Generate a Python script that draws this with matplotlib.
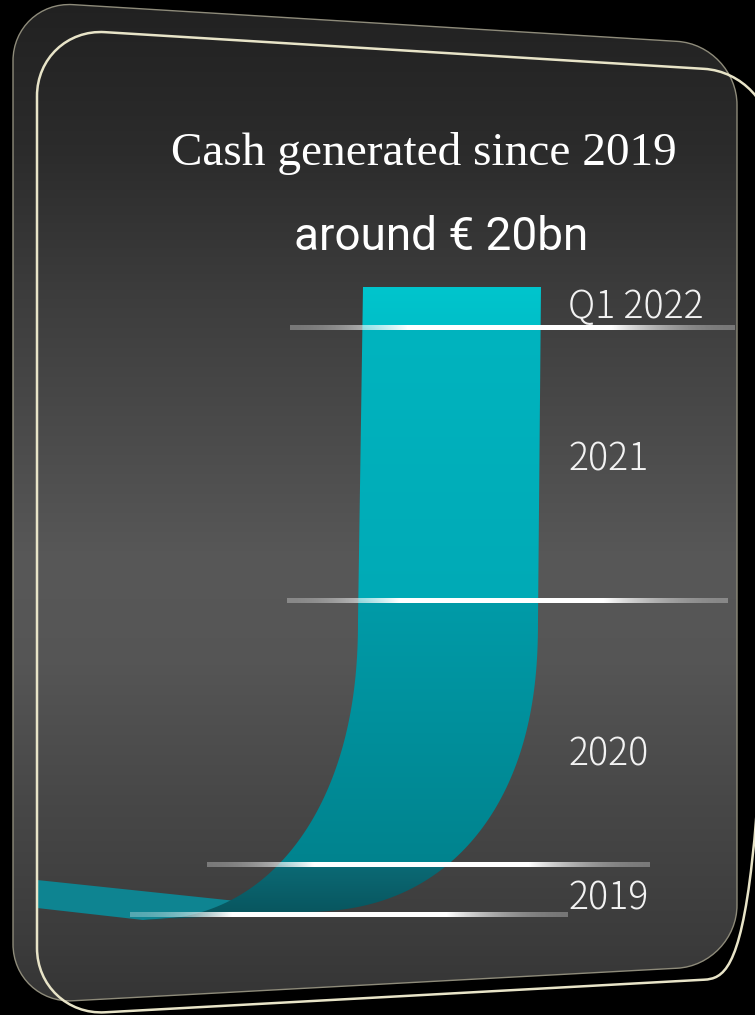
import numpy as np
import matplotlib.pyplot as plt
from matplotlib.path import Path
from matplotlib.patches import PathPatch, Polygon
from matplotlib.colors import to_rgb

# data
periods = ["2019", "2020", "2021", "Q1 2022"]
cash_bn = [1.6, 8.4, 8.7, 1.3]
title = "Cash generated since 2019"
subtitle = "around \u20ac 20bn"

W, H = 755, 1015


def rounded_quad(pts, r):
    # closed quadrilateral with rounded corners (cubic approx of circular arc)
    pts = [np.array(p, float) for p in pts]
    verts, codes = [], []
    k = 0.552
    for i in range(4):
        p, prv, nxt = pts[i], pts[i - 1], pts[(i + 1) % 4]
        d1 = (prv - p) / np.linalg.norm(prv - p)
        d2 = (nxt - p) / np.linalg.norm(nxt - p)
        a, b = p + d1 * r, p + d2 * r
        verts.append(a)
        codes.append(Path.MOVETO if i == 0 else Path.LINETO)
        verts += [a + (p - a) * k, b + (p - b) * k, b]
        codes += [Path.CURVE4] * 3
    verts.append(verts[0])
    codes.append(Path.CLOSEPOLY)
    return Path(verts, codes)


def superellipse(cx, cy, a, b, p, n=80):
    t = np.linspace(0, np.pi / 2, n)
    return np.c_[cx + a * np.cos(t) ** (2 / p), cy - b * np.sin(t) ** (2 / p)]


fig = plt.figure(figsize=(7.55, 10.15), dpi=100)
fig.patch.set_facecolor("black")

# card layer, pixel coordinates
ax = fig.add_axes([0, 0, 1, 1])
ax.axis("off")

back = rounded_quad([(13, 1), (737, 45), (737, 965), (13, 1004)], 60)
front = rounded_quad([(37, 28), (772, 73), (772, 976), (37, 1016)], 68)

yy = np.arange(H)
shade = np.interp(yy, [0, 150, 300, 450, 560, 660, 800, 950, 1015],
                  [0.13, 0.17, 0.24, 0.30, 0.345, 0.335, 0.28, 0.23, 0.20])
card_img = np.repeat(shade[:, None], W, axis=1)
im = ax.imshow(np.dstack([card_img] * 3), extent=(0, W, H, 0), origin="upper",
               aspect="auto", interpolation="bilinear", zorder=1)
back_patch = PathPatch(back, fc="none", ec="#8e8b7a", lw=1.0, zorder=2)
ax.add_patch(back_patch)
im.set_clip_path(back_patch)
ax.set_xlim(0, W)
ax.set_ylim(H, 0)

ax.text(171, 165, title, color="white", fontsize=34, family="Liberation Serif",
        va="baseline", ha="left")
ax.text(294, 250, subtitle, color="white", fontsize=33, family="Roboto",
        va="baseline", ha="left")

# ribbon layer, y in bn
total = sum(cash_bn)
cum = np.cumsum(cash_bn)
TOP_PX, BASE_PX = 287, 915
ppb = (BASE_PX - TOP_PX) / total
ax2 = fig.add_axes([0, 0, 1, 1], facecolor="none")
ax2.axis("off")
ylo, yhi = -(H - BASE_PX) / ppb, BASE_PX / ppb

bend = 9.4
outer = superellipse(300, bend, 238, bend - 0.096, 2.3)
inner = superellipse(143, bend, 215, bend + 0.16, 2.2)
j_verts = np.vstack([[(363, total), (541, total)], outer, [(143, -0.16)], inner[::-1]])
j_patch = Polygon(j_verts, closed=True, fc="none", ec="none")
ax2.add_patch(j_patch)

band = Polygon([(37, 1.115), (300, 0.232), (250, 0.096), (143, -0.159), (37, 0.223)],
               closed=True, fc="#0e8491", ec="none", zorder=1)
ax2.add_patch(band)

seg_top = ["#0b6a75", "#009ba8", "#00b4bf", "#00c5cd"]
seg_bot = ["#08555e", "#00838e", "#00aab6", "#00bfc8"]
ys = np.linspace(ylo, yhi, 1600)
edges = np.r_[0, cum]
rib = np.zeros((len(ys), 1, 3))
for i in range(len(cash_bn)):
    lo = -1e9 if i == 0 else edges[i]
    hi = 1e9 if i == len(cash_bn) - 1 else edges[i + 1]
    m = (ys >= lo) & (ys < hi)
    f = np.clip((ys[m] - edges[i]) / (edges[i + 1] - edges[i]), 0, 1)[:, None]
    rib[m, 0, :] = np.array(to_rgb(seg_bot[i])) * (1 - f) + np.array(to_rgb(seg_top[i])) * f
rib = np.repeat(rib, 4, axis=1)
im2 = ax2.imshow(rib, extent=(0, W, ylo, yhi), origin="lower", aspect="auto",
                 interpolation="bilinear", zorder=2)
im2.set_clip_path(j_patch)

# glowing separators at period boundaries (white core fading to grey)
line_ext = [(130, 568, 231, 448), (207, 650, 313, 530), (287, 728, 398, 605), (290, 735, 407, 613)]
half = 2.3 / ppb
for yb, (x0, x1, c0, c1) in zip(edges[:-1], line_ext):
    xs = np.linspace(x0, x1, 400)
    s = np.where(xs < c0, (xs - x0) / (c0 - x0), np.where(xs > c1, (x1 - xs) / (x1 - c1), 1.0))
    alpha = 0.3 + 0.7 * np.clip(s, 0, 1) ** 2
    strip = np.ones((1, len(xs), 4))
    strip[0, :, 3] = alpha
    ax2.imshow(strip, extent=(x0, x1, yb - half, yb + half), origin="lower",
               aspect="auto", interpolation="bilinear", zorder=3)

label_off = [-0.29, -0.7, 0.14, 0.01]
for i, lab in enumerate(periods):
    mid = (edges[i] + edges[i + 1]) / 2 + label_off[i]
    ax2.text(568, mid, lab, color="#f2f2f2", fontsize=27, family="Noto Sans CJK JP",
             weight="light", va="center", ha="left", zorder=4)

front_patch = PathPatch(front, fc="none", ec="#e8e4c8", lw=1.8, zorder=5,
                        transform=ax.transData)
ax2.add_patch(front_patch)
ax2.set_xlim(0, W)
ax2.set_ylim(ylo, yhi)

fig.savefig("out.png", dpi=100, facecolor="black")
